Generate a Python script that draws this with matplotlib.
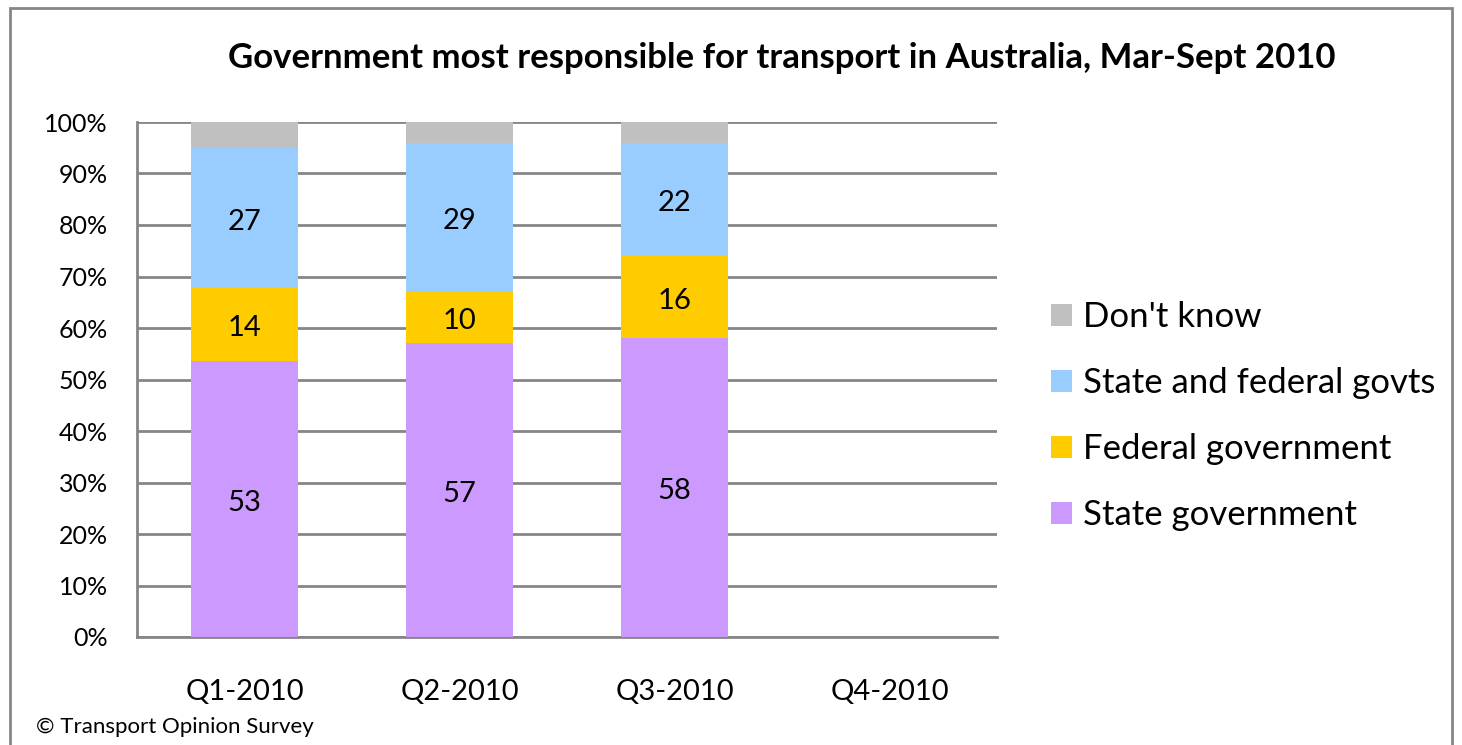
import matplotlib.pyplot as plt
import numpy as np
from matplotlib.patches import Rectangle

plt.rcParams['font.family'] = ['Lato', 'DejaVu Sans']

quarters = ['Q1-2010', 'Q2-2010', 'Q3-2010', 'Q4-2010']
state_gov = [53, 57, 58]
federal_gov = [14, 10, 16]
state_and_federal = [27, 29, 22]
dont_know = [5, 4, 4]

series_names = ['State government', 'Federal government', 'State and federal govts', "Don't know"]
series_colors = ['#CC99FF', '#FFCC00', '#99CCFF', '#C0C0C0']
series = [state_gov, federal_gov, state_and_federal, dont_know]

fig = plt.figure(figsize=(14.62, 7.45), dpi=100)
ax = fig.add_axes([137 / 1462, 1 - 637 / 745, 860 / 1462, 515 / 745])

# 100% stacked, like excel does it
data = np.array(series, dtype=float)
totals = data.sum(axis=0)
pct = data / totals * 100
x = np.arange(len(state_gov))

bottom = np.zeros(len(state_gov))
handles = []
for i in range(len(series)):
    b = ax.bar(x, pct[i], 0.5, bottom=bottom, color=series_colors[i], zorder=3,
               label=series_names[i])
    handles.append(b)
    if i < 3:
        for j in range(len(x)):
            ax.text(x[j], bottom[j] + pct[i][j] / 2 - 0.7, str(series[i][j]), ha='center',
                    va='center', fontsize=21, zorder=4)
    bottom += pct[i]

ax.set_xlim(-0.5, len(quarters) - 0.5)
ax.set_ylim(0, 100)
ax.set_xticks(np.arange(len(quarters)))
ax.set_xticklabels(quarters, fontsize=21)
ax.set_yticks(np.arange(0, 101, 10))
ax.set_yticklabels(['%d%%' % v for v in range(0, 101, 10)], fontsize=18)
ax.tick_params(axis='x', length=0, pad=30)
ax.tick_params(axis='y', length=0, pad=21)
ax.grid(axis='y', color='#868686', linewidth=2, zorder=0)
for s in ['top', 'right']:
    ax.spines[s].set_visible(False)
ax.spines['left'].set_color('#868686')
ax.spines['left'].set_linewidth(2)
ax.spines['bottom'].set_color('#868686')
ax.spines['bottom'].set_linewidth(2)

fig.text(782 / 1462, 1 - 58 / 745, 'Government most responsible for transport in Australia, Mar-Sept 2010',
         ha='center', va='center', fontsize=25, fontweight='bold')
fig.text(36 / 1462, 1 - 727 / 745, '\u00a9 Transport Opinion Survey', ha='left', va='center', fontsize=16)

fig.legend(handles[::-1], series_names[::-1], loc='center left',
           bbox_to_anchor=(1051 / 1462, 1 - 416 / 745), frameon=False, fontsize=25,
           handlelength=0.6, handleheight=0.6, handletextpad=0.32, labelspacing=0.98,
           borderpad=0, borderaxespad=0)

fig.patches.append(Rectangle((10 / 1462, -0.05), 1442 / 1462, 1.05 - 8 / 745,
                             transform=fig.transFigure, fill=False, edgecolor='#868686', linewidth=2))

plt.savefig('out.png', dpi=100)
